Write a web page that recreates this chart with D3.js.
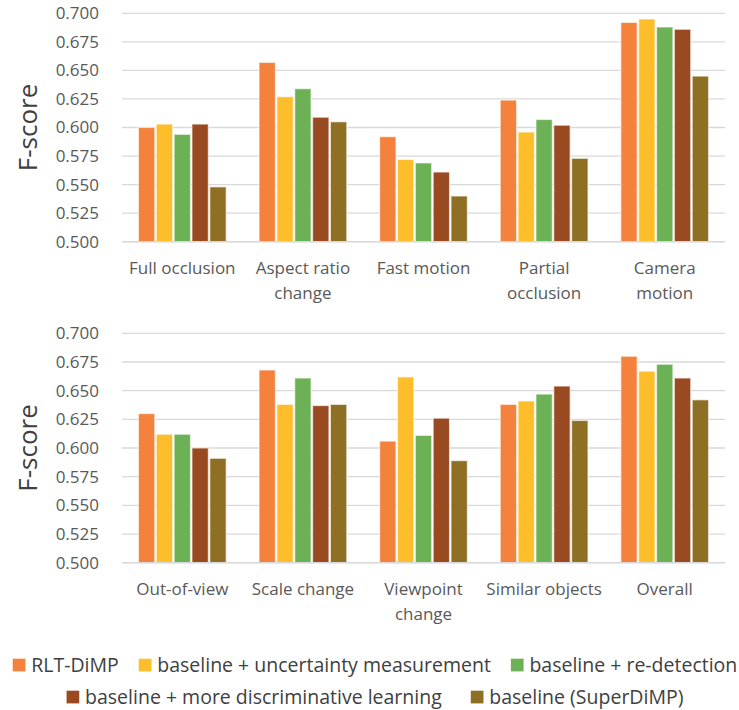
<!DOCTYPE html>
<html>
<head>
<meta charset="utf-8">
<script src="https://cdn.jsdelivr.net/npm/d3@7"></script>
<style>
  body { margin: 0; background: #fff; }
  svg { display: block; font-family: "Open Sans", "Noto Sans", sans-serif; }
</style>
</head>
<body>
<svg id="chart" width="739" height="710"></svg>
<script>
const series = [
  'RLT-DiMP',
  'baseline + uncertainty measurement',
  'baseline + re-detection',
  'baseline + more discriminative learning',
  'baseline (SuperDiMP)',
];
const colors = ['#f4823c', '#febd2b', '#6cb155', '#9a4a20', '#8e6f23'];

const topCategories = ['Full occlusion', 'Aspect ratio\nchange', 'Fast motion', 'Partial\nocclusion', 'Camera\nmotion'];
const topValues = [
  [0.600, 0.657, 0.592, 0.624, 0.692],
  [0.603, 0.627, 0.572, 0.596, 0.695],
  [0.594, 0.634, 0.569, 0.607, 0.688],
  [0.603, 0.609, 0.561, 0.602, 0.686],
  [0.548, 0.605, 0.540, 0.573, 0.645],
];

const bottomCategories = ['Out-of-view', 'Scale change', 'Viewpoint\nchange', 'Similar objects', 'Overall'];
const bottomValues = [
  [0.630, 0.668, 0.606, 0.638, 0.680],
  [0.612, 0.638, 0.662, 0.641, 0.667],
  [0.612, 0.661, 0.611, 0.647, 0.673],
  [0.600, 0.637, 0.626, 0.654, 0.661],
  [0.591, 0.638, 0.589, 0.624, 0.642],
];

const yTicks = [0.500, 0.525, 0.550, 0.575, 0.600, 0.625, 0.650, 0.675, 0.700];

const svg = d3.select('#chart');
const left = 122, right = 725;

function drawPanel(categories, values, top, bottom) {
  const g = svg.append('g');
  const y = d3.scaleLinear().domain([0.5, 0.7]).range([bottom, top]);
  const x0 = d3.scaleBand().domain(d3.range(categories.length)).range([left, right]).paddingInner(0.26).paddingOuter(0.13);
  const x1 = d3.scaleBand().domain(d3.range(series.length)).range([0, x0.bandwidth()]).padding(0);

  g.append('g').selectAll('line').data(yTicks).join('line')
    .attr('x1', left).attr('x2', right)
    .attr('y1', (d) => y(d)).attr('y2', (d) => y(d))
    .attr('stroke', '#d9d9d9').attr('stroke-width', 1.3);

  g.append('g').selectAll('text').data(yTicks).join('text')
    .attr('x', 99).attr('y', (d) => y(d)).attr('dy', '0.35em')
    .attr('text-anchor', 'end').attr('fill', '#595959').attr('font-size', 17)
    .text((d) => d3.format('.3f')(d));

  const groups = g.append('g').selectAll('g').data(categories).join('g')
    .attr('transform', (d, i) => `translate(${x0(i)},0)`);

  groups.selectAll('rect').data((d, i) => values.map((s, k) => ({ k, v: s[i] }))).join('rect')
    .attr('x', (d) => x1(d.k) + 0.75)
    .attr('width', x1.bandwidth() - 1.5)
    .attr('y', (d) => y(d.v))
    .attr('height', (d) => y(0.5) - y(d.v))
    .attr('fill', (d) => colors[d.k])
    .attr('stroke', '#fff').attr('stroke-opacity', 0.6).attr('stroke-width', 1.2);

  // baseline drawn on top
  g.append('line').attr('x1', left).attr('x2', right)
    .attr('y1', y(0.5)).attr('y2', y(0.5))
    .attr('stroke', '#d9d9d9').attr('stroke-width', 1.5);

  groups.append('text')
    .attr('x', x0.bandwidth() / 2).attr('y', bottom + 26).attr('dy', '0.35em')
    .attr('text-anchor', 'middle').attr('fill', '#595959').attr('font-size', 17)
    .selectAll('tspan').data((d) => d.split('\n')).join('tspan')
    .attr('x', x0.bandwidth() / 2).attr('dy', (d, i) => i === 0 ? '0.35em' : 25)
    .text((d) => d);

  g.append('text')
    .attr('transform', `translate(37,${(top + bottom) / 2}) rotate(-90)`)
    .attr('text-anchor', 'middle').attr('fill', '#404040').attr('font-size', 26)
    .text('F-score');
}

drawPanel(topCategories, topValues, 13.3, 241.7);
drawPanel(bottomCategories, bottomValues, 333.3, 562.7);

// legend
const legendRows = [[0, 1, 2], [3, 4]];
const legendY = [665, 697];
const legendGap = [20, 29];
const legend = svg.append('g').attr('font-size', 19.5).attr('fill', '#404040');
legendRows.forEach((row, r) => {
  const rowG = legend.append('g');
  let cx = 0;
  row.forEach((k) => {
    const item = rowG.append('g').attr('transform', `translate(${cx},0)`);
    item.append('rect').attr('x', 0).attr('y', legendY[r] - 6.3).attr('width', 12.7).attr('height', 12.7).attr('fill', colors[k]);
    const t = item.append('text').attr('x', 18.5).attr('y', legendY[r]).attr('dy', '0.35em').text(series[k]);
    cx += 18.5 + t.node().getComputedTextLength() + legendGap[r];
  });
  const w = cx - legendGap[r];
  rowG.attr('transform', `translate(${375 - w / 2},0)`);
});
</script>
</body>
</html>
